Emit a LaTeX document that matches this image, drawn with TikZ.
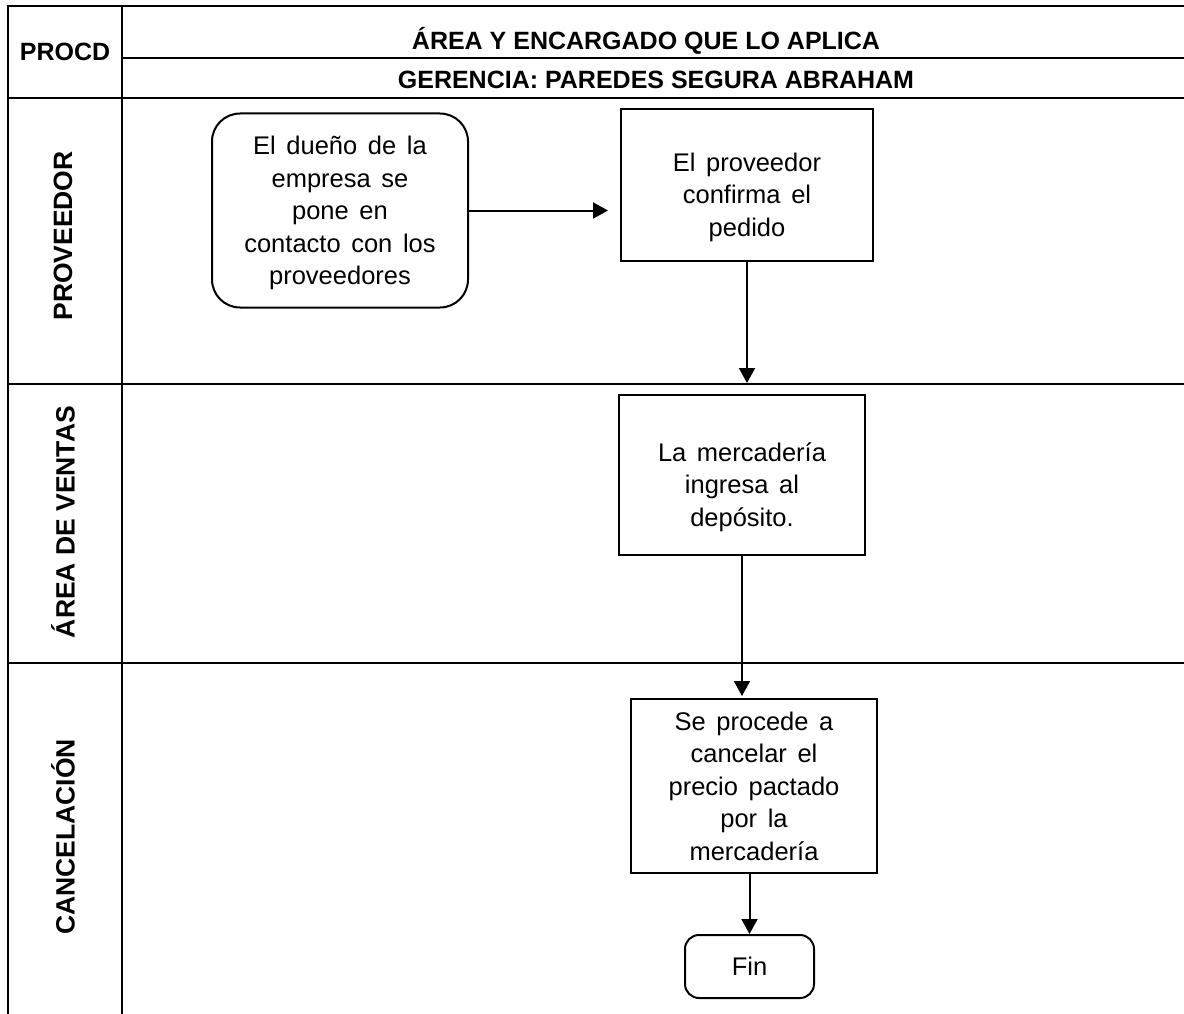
\documentclass[tikz,border=0pt]{standalone}
\usepackage{fontspec}
\setmainfont{Liberation Sans}
\newfontfamily\bodyfont{Liberation Sans}[WordSpace=1.5]
\usetikzlibrary{arrows.meta}
\begin{document}
\begin{tikzpicture}[x=1pt,y=-1pt,
  tline/.style={line width=2.6pt, line cap=rect},
  procbox/.style={draw, line width=2pt, rectangle, inner sep=0pt},
  roundbox/.style={draw, line width=2pt, rounded corners=28pt, inner sep=0pt},
  finbox/.style={draw, line width=2pt, rounded corners=14pt, inner sep=0pt},
  txt/.style={align=center, font=\bodyfont\fontsize{25.5}{32.5}\selectfont, inner sep=0pt},
  hdr/.style={font=\fontsize{25}{30}\selectfont\bfseries, inner sep=0pt},
  lanehdr/.style={font=\fontsize{26.5}{30}\selectfont\bfseries, inner sep=0pt, rotate=90},
  flow/.style={line width=2pt, -{Triangle[length=15pt,width=16pt]}},
]
\useasboundingbox (0,0) rectangle (1184,1014);
% table
\draw[tline] (8,6) -- (1184,6);
\draw[tline] (122,58) -- (1184,58);
\draw[tline] (8,98) -- (1184,98);
\draw[tline] (8,384) -- (1184,384);
\draw[tline] (8,663) -- (1184,663);
\draw[tline] (8,6) -- (8,1014);
\draw[tline] (122,6) -- (122,1014);
% headers
\node[hdr, anchor=base] (procd) at (65,61) {PROCD};
\node[hdr, anchor=base] (area) at (646,50) {ÁREA Y ENCARGADO QUE LO APLICA};
\node[hdr, anchor=base] (ger) at (656,89) {GERENCIA: PAREDES SEGURA ABRAHAM};
\node[lanehdr] (lane1) at (63,236) {PROVEEDOR};
\node[lanehdr] (lane2) at (63,522) {ÁREA DE VENTAS};
\node[lanehdr] (lane3) at (63,837) {CANCELACIÓN};
% boxes
\node[roundbox, minimum width=256pt, minimum height=194pt] (start) at (340,210.5) {};
\node[txt] (starttxt) at (340,213) {El dueño de la\\empresa se\\pone en\\contacto con los\\proveedores};
\node[procbox, minimum width=252pt, minimum height=152pt] (conf) at (747,185) {};
\node[txt] (conftxt) at (747,197) {El proveedor\\confirma el\\pedido};
\node[procbox, minimum width=246pt, minimum height=160pt] (ing) at (742,475) {};
\node[txt] (ingtxt) at (742,487) {La mercadería\\ingresa al\\depósito.};
\node[procbox, minimum width=246pt, minimum height=174pt] (canc) at (754,786) {};
\node[txt] (canctxt) at (754,786) {Se procede a\\cancelar el\\precio pactado\\por la\\mercadería};
\node[finbox, minimum width=129pt, minimum height=63pt] (fin) at (749.5,966.5) {};
\node[txt] (fintxt) at (749.5,966.5) {Fin};
% connectors
\draw[flow, shorten >=12pt] (start.east) -- (start.east -| conf.west);
\draw[flow, shorten >=11pt] (conf.south) -- (conf.south |- ing.north);
\draw[flow, shorten >=2pt] (ing.south) -- (ing.south |- canc.north);
\draw[flow] (fin.north |- canc.south) -- (fin.north);
\end{tikzpicture}
\end{document}
